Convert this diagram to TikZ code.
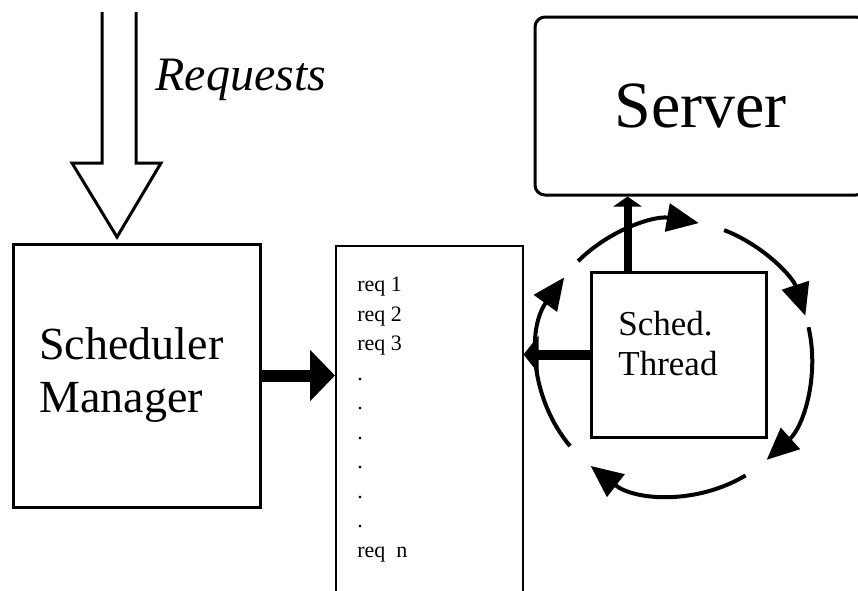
\documentclass[tikz,border=0pt]{standalone}
\usepackage{fontspec}
\setmainfont{Liberation Serif}
\usetikzlibrary{arrows.meta}

\tikzset{every picture/.style={line width=0.75pt}}

\begin{document}
\begin{tikzpicture}[x=1pt,y=1pt,yscale=-1,xscale=1,
    box/.style={draw, line width=3pt, inner sep=0pt},
    label text/.style={anchor=north west, inner sep=0pt, align=left},
    fat arrow/.style={line width=12pt, -{Triangle[length=25pt,width=50pt]}},
    ring arrow/.style={line width=4pt, -{Triangle[length=32pt,width=28pt]}}]
    \useasboundingbox (0,0) rectangle (858,590);

    % Boxes
    \node[box, minimum width=247pt, minimum height=263pt] (mgr) at (136.5,375.5) {};
    \node[draw, line width=1.5pt, inner sep=0pt, minimum width=187pt, minimum height=360pt, anchor=north west] (queue) at (335,245) {};
    \node[box, rounded corners=10pt, minimum width=331pt, minimum height=178pt, font=\fontsize{66}{66}\selectfont] (server) at (700.5,106) {Server};
    \node[box, minimum width=175pt, minimum height=165pt] (sched) at (678.5,354.5) {};
    \coordinate (ring) at (675,358);

    % Text Node
    \node[label text, font=\fontsize{46}{53}\selectfont] (mgrtext) at (39,327) {Scheduler\\Manager};
    % Text Node
    \node[label text, font=\fontsize{35}{40}\selectfont] (schedtext) at (618,311) {Sched.\\Thread};
    % Text Node
    \node[label text, font=\fontsize{22}{29.5}\selectfont] (reqs) at (357,277) {req 1\\req 2\\req 3\\.\\.\\.\\.\\.\\.\\req\ \ n};
    % Text Node
    \node[anchor=base west, inner sep=0pt, font=\fontsize{48}{48}\selectfont\itshape] (reqlabel) at (155,90) {Requests};

    % Hollow arrow of requests
    \draw[line width=3pt] (102,12) -- (102,163) -- (72,163) -- (117,237) -- (161,163) -- (136,163) -- (136,12);

    % Connectors
    \draw[fat arrow] (mgr.east) -- (mgr.east -| queue.west);
    \draw[line width=10pt, -{Triangle[length=15pt,width=37pt]}] (sched.west) -- (sched.west -| queue.east);
    \draw[line width=8pt, -{Triangle[length=10pt,width=28pt]}] ([xshift=-51pt]sched.north) -- ([xshift=-51pt]sched.north |- server.south);

    % Scheduling loop
    \foreach \a/\b in {-135/-80, -69/-18, -13/48, 59/128, 140/216}
        \draw[ring arrow] (ring) ++(\a:137) arc[start angle=\a, end angle=\b, radius=137];

\end{tikzpicture}
\end{document}
